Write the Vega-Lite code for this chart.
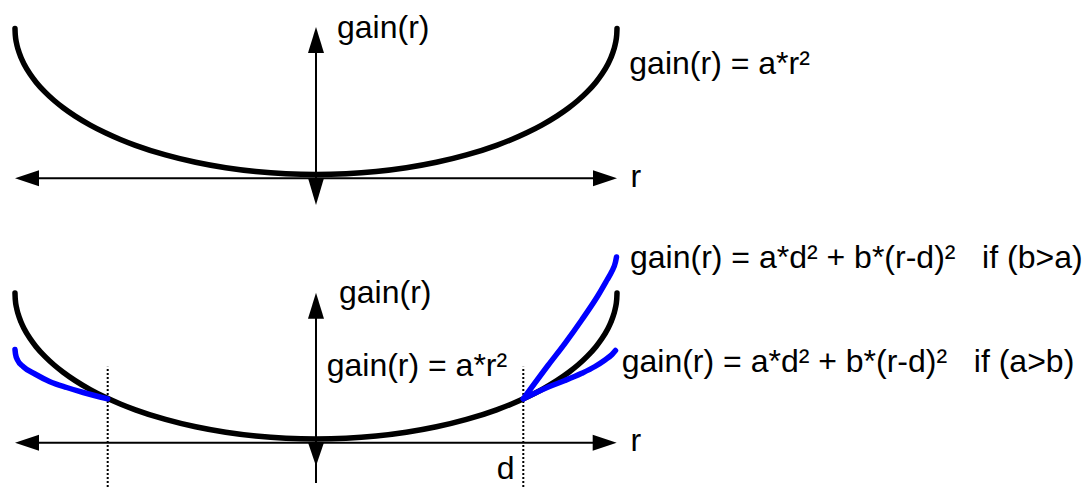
{
  "$schema": "https://vega.github.io/schema/vega-lite/v6.json",
  "padding": 0,
  "spacing": 0,
  "bounds": "flush",
  "background": "white",
  "config": {"view": {"stroke": null}},
  "datasets": {
    "ellipse": [
      {"r": -1, "g": 1}, {"r": -0.999, "g": 0.9553}, {"r": -0.995, "g": 0.9001}, {"r": -0.99, "g": 0.8589},
      {"r": -0.98, "g": 0.801}, {"r": -0.97, "g": 0.7569}, {"r": -0.95, "g": 0.6878}, {"r": -0.93, "g": 0.6324},
      {"r": -0.9, "g": 0.5641}, {"r": -0.87, "g": 0.5069}, {"r": -0.84, "g": 0.4574}, {"r": -0.8, "g": 0.4},
      {"r": -0.75, "g": 0.3386}, {"r": -0.7, "g": 0.2859}, {"r": -0.65, "g": 0.2401}, {"r": -0.6, "g": 0.2},
      {"r": -0.5, "g": 0.134}, {"r": -0.4, "g": 0.0835}, {"r": -0.3, "g": 0.0461}, {"r": -0.2, "g": 0.0202},
      {"r": -0.1, "g": 0.005}, {"r": 0, "g": 0}, {"r": 0.1, "g": 0.005}, {"r": 0.2, "g": 0.0202},
      {"r": 0.3, "g": 0.0461}, {"r": 0.4, "g": 0.0835}, {"r": 0.5, "g": 0.134}, {"r": 0.6, "g": 0.2},
      {"r": 0.65, "g": 0.2401}, {"r": 0.7, "g": 0.2859}, {"r": 0.75, "g": 0.3386}, {"r": 0.8, "g": 0.4},
      {"r": 0.84, "g": 0.4574}, {"r": 0.87, "g": 0.5069}, {"r": 0.9, "g": 0.5641}, {"r": 0.93, "g": 0.6324},
      {"r": 0.95, "g": 0.6878}, {"r": 0.97, "g": 0.7569}, {"r": 0.98, "g": 0.801}, {"r": 0.99, "g": 0.8589},
      {"r": 0.995, "g": 0.9001}, {"r": 0.999, "g": 0.9553}, {"r": 1, "g": 1}
    ]
  },
  "vconcat": [
    {
      "width": 1086,
      "height": 230,
      "encoding": {
        "x": {"field": "r", "type": "quantitative", "scale": {"domain": [-1.0498, 2.5581], "nice": false, "zero": false}, "axis": null},
        "y": {"field": "g", "type": "quantitative", "scale": {"domain": [-0.3801, 1.1952], "nice": false, "zero": false}, "axis": null}
      },
      "layer": [
        {
          "data": {"values": [{"r": -0.95, "r2": 0.95, "g": -0.026}]},
          "mark": {"type": "rule", "color": "black", "strokeWidth": 2},
          "encoding": {"x2": {"field": "r2"}}
        },
        {
          "data": {"values": [{"r": 0, "g": -0.1747, "g2": 0.9212}]},
          "mark": {"type": "rule", "color": "black", "strokeWidth": 2},
          "encoding": {"y2": {"field": "g2"}}
        },
        {
          "data": {"name": "ellipse"},
          "mark": {"type": "line", "color": "black", "strokeWidth": 5.5, "strokeCap": "round", "interpolate": "monotone"}
        },
        {
          "data": {"values": [
            {"r": -1, "g": -0.026, "dir": "left"},
            {"r": 1, "g": -0.026, "dir": "right"},
            {"r": 0, "g": 1.0103, "dir": "up"},
            {"r": 0, "g": -0.2089, "dir": "down"}
          ]},
          "mark": {"type": "point", "filled": true, "color": "black", "opacity": 1, "size": 576, "strokeWidth": 0},
          "encoding": {
            "shape": {"field": "dir", "type": "nominal", "legend": null,
              "scale": {"domain": ["left", "right", "up", "down", "down2"],
                "range": ["M0,0L2,-0.667L2,0.667Z", "M0,0L-2,-0.667L-2,0.667Z", "M0,0L-0.667,2.17L0.667,2.17Z", "M0,0L-0.667,-2.25L0.667,-2.25Z", "M0,0L-0.667,-1.95L0.667,-1.95Z"]}}
          }
        },
        {
          "data": {"values": [
            {"r": 0.0698, "g": 0.9349, "label": "gain(r)"},
            {"r": 1.0409, "g": 0.6884, "label": "gain(r) = a*r²"},
            {"r": 1.0449, "g": -0.0822, "label": "r"}
          ]},
          "mark": {"type": "text", "align": "left", "baseline": "alphabetic", "font": "Liberation Sans", "fontSize": 32, "color": "black"},
          "encoding": {"text": {"field": "label"}}
        }
      ]
    },
    {
      "width": 1086,
      "height": 257,
      "encoding": {
        "x": {"field": "r", "type": "quantitative", "scale": {"domain": [-1.0498, 2.5581], "nice": false, "zero": false}, "axis": null},
        "y": {"field": "g", "type": "quantitative", "scale": {"domain": [-0.3288, 1.4315], "nice": false, "zero": false}, "axis": null}
      },
      "layer": [
        {
          "data": {"values": [{"r": -0.95, "r2": 0.95, "g": -0.0253}]},
          "mark": {"type": "rule", "color": "black", "strokeWidth": 2},
          "encoding": {"x2": {"field": "r2"}}
        },
        {
          "data": {"values": [{"r": 0, "g": -0.3014, "g2": 0.8836}]},
          "mark": {"type": "rule", "color": "black", "strokeWidth": 2},
          "encoding": {"y2": {"field": "g2"}}
        },
        {
          "data": {"values": [{"r": -0.692, "g": -0.3288, "g2": 0.4952}, {"r": 0.6887, "g": -0.3288, "g2": 0.4952}]},
          "mark": {"type": "rule", "color": "black", "strokeWidth": 2, "strokeDash": [2, 2]},
          "encoding": {"y2": {"field": "g2"}}
        },
        {
          "data": {"name": "ellipse"},
          "mark": {"type": "line", "color": "black", "strokeWidth": 5.5, "strokeCap": "round", "interpolate": "monotone"}
        },
        {
          "data": {"values": [
            {"r": -1.0, "g": 0.613}, {"r": -0.9983, "g": 0.5822}, {"r": -0.9917, "g": 0.5411}, {"r": -0.9724, "g": 0.4952},
            {"r": -0.9336, "g": 0.4452}, {"r": -0.8837, "g": 0.3925}, {"r": -0.8282, "g": 0.3527}, {"r": -0.7731, "g": 0.3185},
            {"r": -0.692, "g": 0.2749}
          ]},
          "mark": {"type": "line", "color": "#0000ff", "strokeWidth": 5.5, "strokeCap": "round", "interpolate": "monotone"}
        },
        {
          "data": {"values": [
            {"r": 0.6887, "g": 0.2749}, {"r": 0.7718, "g": 0.3562}, {"r": 0.8272, "g": 0.4007}, {"r": 0.8827, "g": 0.45},
            {"r": 0.9269, "g": 0.4966}, {"r": 0.9601, "g": 0.5411}, {"r": 0.9834, "g": 0.5788}, {"r": 0.995, "g": 0.6062}
          ]},
          "mark": {"type": "line", "color": "#0000ff", "strokeWidth": 5.5, "strokeCap": "round", "interpolate": "monotone"}
        },
        {
          "data": {"values": [
            {"r": 0.6887, "g": 0.2749}, {"r": 0.7718, "g": 0.5068}, {"r": 0.8272, "g": 0.6555}, {"r": 0.8827, "g": 0.8151},
            {"r": 0.9379, "g": 0.9863}, {"r": 0.9668, "g": 1.089}, {"r": 0.9824, "g": 1.1459}, {"r": 0.995, "g": 1.2123},
            {"r": 0.9983, "g": 1.2466}
          ]},
          "mark": {"type": "line", "color": "#0000ff", "strokeWidth": 5.5, "strokeCap": "round", "interpolate": "monotone"}
        },
        {
          "data": {"values": [
            {"r": -1, "g": -0.0253, "dir": "left"},
            {"r": 0.999, "g": -0.0253, "dir": "right"},
            {"r": 0, "g": 1.002, "dir": "up"},
            {"r": 0, "g": -0.1849, "dir": "down2"}
          ]},
          "mark": {"type": "point", "filled": true, "color": "black", "opacity": 1, "size": 576, "strokeWidth": 0},
          "encoding": {
            "shape": {"field": "dir", "type": "nominal", "legend": null,
              "scale": {"domain": ["left", "right", "up", "down", "down2"],
                "range": ["M0,0L2,-0.667L2,0.667Z", "M0,0L-2,-0.667L-2,0.667Z", "M0,0L-0.667,2.17L0.667,2.17Z", "M0,0L-0.667,-2.25L0.667,-2.25Z", "M0,0L-0.667,-1.95L0.667,-1.95Z"]}}
          }
        },
        {
          "data": {"values": [
            {"r": 0.0764, "g": 0.9349, "label": "gain(r)"},
            {"r": 0.0355, "g": 0.4281, "label": "gain(r) = a*r²"},
            {"r": 1.0449, "g": -0.0836, "label": "r"},
            {"r": 0.6003, "g": -0.2761, "label": "d"},
            {"r": 1.0432, "g": 1.1712, "label": "gain(r) = a*d² + b*(r-d)²\u00a0\u00a0\u00a0if (b>a)"},
            {"r": 1.0156, "g": 0.4555, "label": "gain(r) = a*d² + b*(r-d)²\u00a0\u00a0\u00a0if (a>b)"}
          ]},
          "mark": {"type": "text", "align": "left", "baseline": "alphabetic", "font": "Liberation Sans", "fontSize": 32, "color": "black"},
          "encoding": {"text": {"field": "label"}}
        }
      ]
    }
  ],
  "resolve": {"scale": {"x": "independent", "y": "independent"}}
}
